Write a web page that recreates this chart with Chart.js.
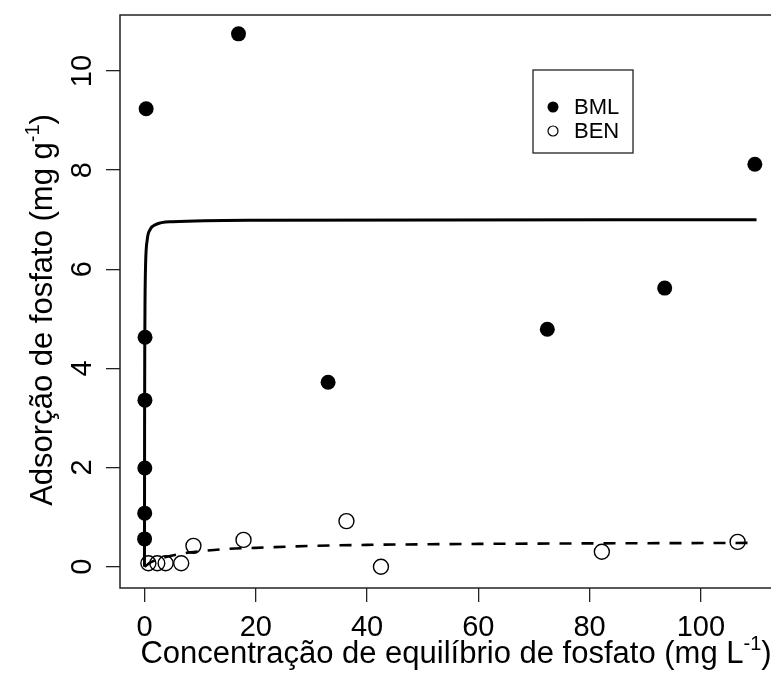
<!DOCTYPE html>
<html>
<head>
<meta charset="utf-8">
<script src="https://cdn.jsdelivr.net/npm/chart.js@4/dist/chart.umd.min.js"></script>
<style>
html, body { margin: 0; padding: 0; background: #fff; overflow: hidden; }
#caixa { width: 800px; height: 676px; }
</style>
</head>
<body>
<div id="caixa"><canvas id="grafico"></canvas></div>
<script>
// marcas dos eixos
const eixoX = [0, 20, 40, 60, 80, 100];
const eixoY = [0, 2, 4, 6, 8, 10];

// BML (pontos cheios)
const bmlX = [0.02, 0.04, 0.06, 0.08, 0.1, 0.3, 16.9, 33.0, 72.4, 93.5, 109.7];
const bmlY = [0.56, 1.08, 1.99, 3.36, 4.63, 9.24, 10.75, 3.72, 4.79, 5.62, 8.12];

// BEN (pontos vazios)
const benX = [0.7, 2.3, 3.8, 6.6, 8.8, 17.8, 36.3, 42.5, 82.2, 106.6];
const benY = [0.07, 0.07, 0.07, 0.07, 0.42, 0.54, 0.92, 0.0, 0.30, 0.50];

// curva ajustada BML (linha cheia)
const ajusteBmlX = [0, 0.02, 0.05, 0.1, 0.2, 0.5, 1, 2, 5, 20, 110];
const ajusteBmlY = [0, 2.8, 4.4, 5.4, 6.1, 6.6, 6.8, 6.9, 6.96, 6.99, 7.0];

// curva ajustada BEN (linha tracejada)
const ajusteBenX = [0, 0.5, 1, 2, 4, 7, 10, 15, 20, 30, 40, 60, 80, 110];
const ajusteBenY = [0, 0.04, 0.08, 0.13, 0.2, 0.27, 0.31, 0.36, 0.38, 0.42, 0.44, 0.46, 0.47, 0.48];

const legendas = ["BML", "BEN"];

const tituloX = ["Concentração de equilíbrio de fosfato (mg L", "-1", ")"];
const tituloY = ["Adsorção de fosfato (mg g", "-1", ")"];

function pares(xs, ys) {
  return xs.map((x, i) => ({ x: x, y: ys[i] }));
}

const fonte = "Liberation Sans, Arial, sans-serif";

function textoComExpoente(ctx, partes, cx, cy, angulo, tam) {
  const grande = tam + "px " + fonte;
  const pequeno = Math.round(tam * 0.66) + "px " + fonte;
  ctx.font = grande;
  const w1 = ctx.measureText(partes[0]).width;
  const w3 = ctx.measureText(partes[2]).width;
  ctx.font = pequeno;
  const w2 = ctx.measureText(partes[1]).width;
  const total = w1 + w2 + w3;
  ctx.save();
  ctx.translate(cx, cy);
  ctx.rotate(angulo);
  ctx.textBaseline = "alphabetic";
  ctx.textAlign = "left";
  let x = -total / 2;
  ctx.font = grande;
  ctx.fillText(partes[0], x, 10);
  x += w1;
  ctx.font = pequeno;
  ctx.fillText(partes[1], x, -3);
  x += w2;
  ctx.font = grande;
  ctx.fillText(partes[2], x, 10);
  ctx.restore();
}

const moldura = {
  id: "moldura",
  afterDraw(chart) {
    const ctx = chart.ctx;
    const a = chart.chartArea;
    ctx.save();
    ctx.strokeStyle = "#222";
    ctx.lineWidth = 1.5;
    ctx.strokeRect(a.left, a.top, a.right - a.left, a.bottom - a.top);

    ctx.fillStyle = "#000";
    textoComExpoente(ctx, tituloX, 456, 653, 0, 31);
    textoComExpoente(ctx, tituloY, 42, 310, -Math.PI / 2, 31);

    // legenda
    ctx.strokeStyle = "#222";
    ctx.lineWidth = 1.3;
    ctx.strokeRect(533, 70, 100, 83);
    ctx.beginPath();
    ctx.arc(553, 107, 5.5, 0, Math.PI * 2);
    ctx.fillStyle = "#000";
    ctx.fill();
    ctx.beginPath();
    ctx.arc(553, 131, 5, 0, Math.PI * 2);
    ctx.lineWidth = 1.2;
    ctx.strokeStyle = "#000";
    ctx.stroke();
    ctx.font = "22px " + fonte;
    ctx.textBaseline = "middle";
    ctx.textAlign = "left";
    ctx.fillText(legendas[0], 574, 108);
    ctx.fillText(legendas[1], 574, 132);
    ctx.restore();
  }
};

const ctx = document.getElementById("grafico");

const grafico = new Chart(ctx, {
  type: "scatter",
  data: {
    datasets: [
      {
        label: "ajuste BML",
        type: "line",
        data: pares(ajusteBmlX, ajusteBmlY),
        borderColor: "#000",
        borderWidth: 3,
        pointRadius: 0,
        cubicInterpolationMode: "monotone",
        fill: false,
        order: 0
      },
      {
        label: "ajuste BEN",
        type: "line",
        data: pares(ajusteBenX, ajusteBenY),
        borderColor: "#000",
        borderWidth: 2.6,
        borderDash: [12, 10],
        pointRadius: 0,
        cubicInterpolationMode: "monotone",
        fill: false,
        order: 0
      },
      {
        label: legendas[0],
        data: pares(bmlX, bmlY),
        backgroundColor: "#000",
        borderColor: "#000",
        borderWidth: 0,
        pointRadius: 7.5,
        order: 1
      },
      {
        label: legendas[1],
        data: pares(benX, benY),
        backgroundColor: "rgba(255,255,255,0)",
        borderColor: "#000",
        borderWidth: 1.4,
        pointRadius: 7.5,
        order: 1
      }
    ]
  },
  options: {
    responsive: true,
    maintainAspectRatio: false,
    animation: false,
    devicePixelRatio: 1,
    layout: { padding: { top: 15, right: 19, left: 0, bottom: 0 } },
    plugins: {
      legend: { display: false },
      tooltip: { enabled: false }
    },
    scales: {
      x: {
        type: "linear",
        min: -4.4,
        max: 114.4,
        afterBuildTicks: s => { s.ticks = eixoX.map(v => ({ value: v })); },
        afterFit: s => { s.height = 88; s.paddingLeft = 0; s.paddingRight = 0; },
        grid: { drawOnChartArea: false, drawTicks: true, tickLength: 14, color: "#222", lineWidth: 1.3 },
        border: { display: false },
        ticks: { color: "#000", font: { family: fonte, size: 29 }, padding: 9, maxRotation: 0 }
      },
      y: {
        type: "linear",
        min: -0.43,
        max: 11.13,
        afterBuildTicks: s => { s.ticks = eixoY.map(v => ({ value: v })); },
        afterFit: s => { s.width = 120; s.paddingTop = 0; s.paddingBottom = 0; },
        grid: { drawOnChartArea: false, drawTicks: true, tickLength: 14, color: "#222", lineWidth: 1.3 },
        border: { display: false },
        ticks: { color: "#000", font: { family: fonte, size: 29 }, padding: 7, minRotation: 90, maxRotation: 90, crossAlign: "center" }
      }
    }
  },
  plugins: [moldura]
});
</script>
</body>
</html>
